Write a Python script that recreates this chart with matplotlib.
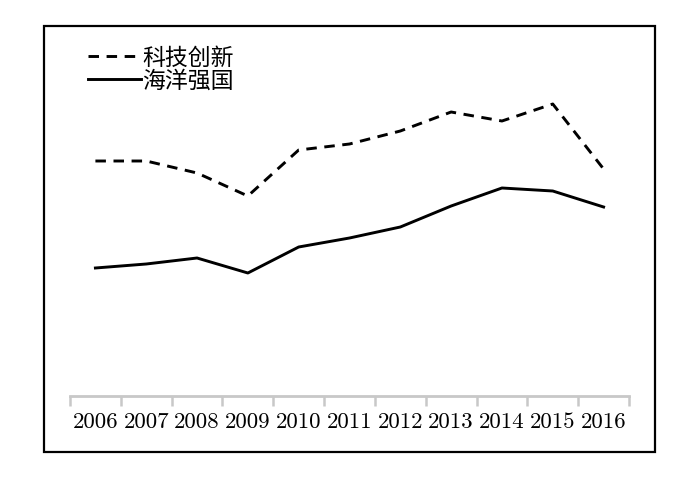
import matplotlib.pyplot as plt
from matplotlib.patches import Rectangle

years = ['2006', '2007', '2008', '2009', '2010', '2011',
         '2012', '2013', '2014', '2015', '2016']
# index values (no y scale shown)
tech = [235, 235, 223, 200, 246, 252, 265, 284, 275, 292, 227]
ocean = [128, 132, 138, 123, 149, 158, 169, 190, 208, 205, 189]

fig = plt.figure(figsize=(7, 4.81), dpi=100)
# axes: pixel x 70..629, y 30..397
ax = fig.add_axes([70 / 700, (481 - 397) / 481, 559 / 700, 367 / 481])

x = list(range(len(years)))
ax.plot(x, tech, color='black', lw=2.1, dashes=(3.6, 2.6), label='科技创新')
ax.plot(x, ocean, color='black', lw=2.1, label='海洋强国')

ax.set_xlim(-0.5, len(years) - 0.5)
ax.set_ylim(0, 367)

# category ticks at boundaries, labels in the middle
ax.set_xticks([i - 0.5 for i in range(len(years) + 1)])
ax.set_xticklabels([])
ax.set_xticks(x, minor=True)
ax.set_xticklabels(years, minor=True, fontfamily='cmr10', fontsize=16.5)
ax.tick_params(axis='x', which='major', length=7, width=1.8, color='#c8c8c8')
ax.tick_params(axis='x', which='minor', length=0, pad=11)
ax.set_yticks([])
for side in ['top', 'right', 'left']:
    ax.spines[side].set_visible(False)
ax.spines['bottom'].set_color('#c8c8c8')
ax.spines['bottom'].set_linewidth(2)

leg = ax.legend(loc='upper left', bbox_to_anchor=(88 / 700, 1 - 47 / 481),
                bbox_transform=fig.transFigure, frameon=False,
                prop={'family': ['Noto Sans CJK SC', 'DejaVu Sans'], 'size': 16.5},
                handlelength=2.3, handletextpad=0.05, labelspacing=0.0,
                borderpad=0, borderaxespad=0)

# outer frame
fig.patches.append(Rectangle((44 / 700, 1 - 453 / 481), 611 / 700, 426 / 481,
                             transform=fig.transFigure, fill=False,
                             edgecolor='black', lw=1.6))

fig.savefig('out.png', dpi=100)
